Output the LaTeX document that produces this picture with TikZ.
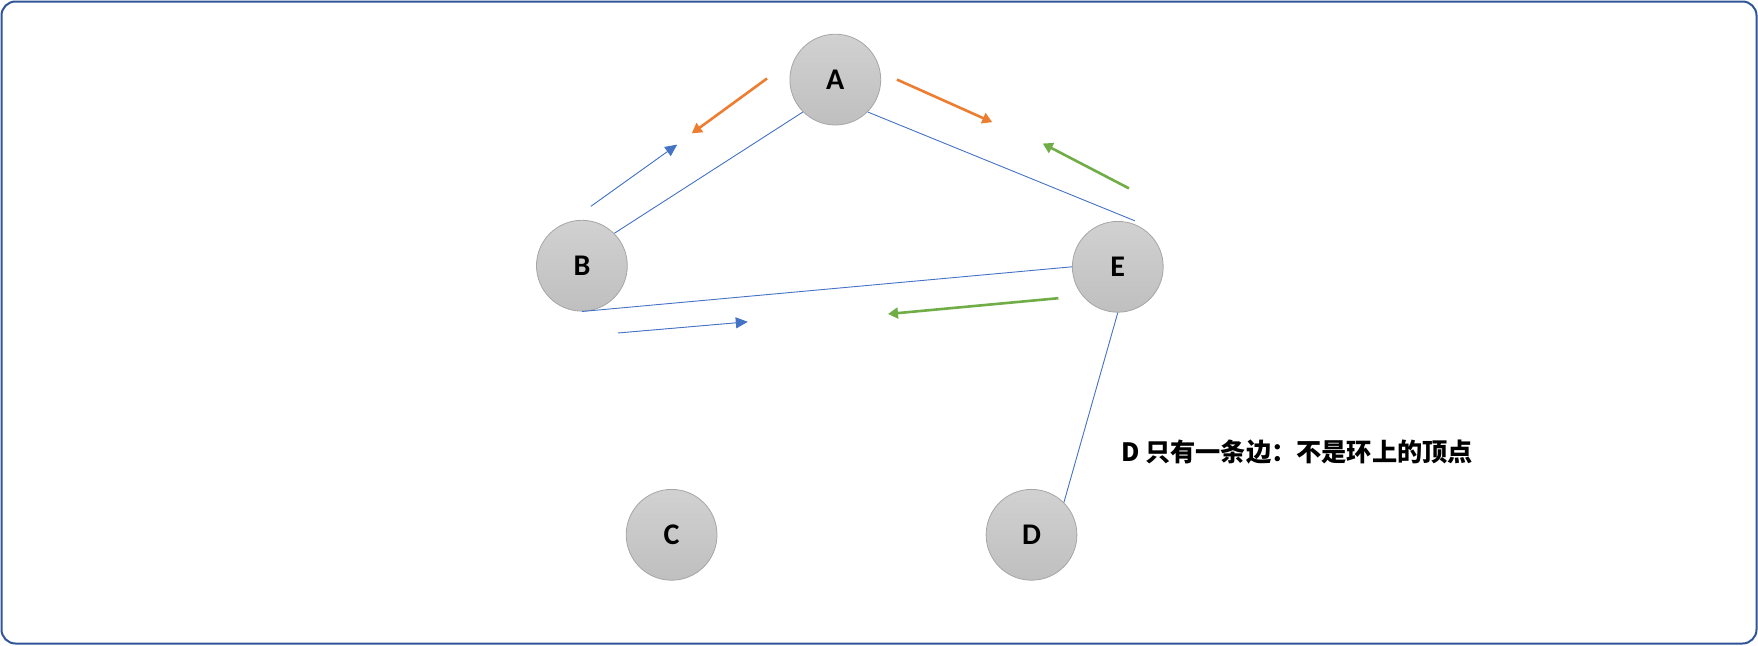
\documentclass[tikz,border=0pt]{standalone}
\usepackage{fontspec}
\setmainfont{Carlito}
\newfontfamily\cjk{Noto Sans CJK SC}
\usetikzlibrary{arrows.meta,calc}
\definecolor{frameblue}{HTML}{2F5597}
\definecolor{edgeblue}{HTML}{4472C4}
\definecolor{orangeA}{HTML}{ED7D31}
\definecolor{greenA}{HTML}{70AD47}
\definecolor{nodeborder}{HTML}{A6A6A6}
\begin{document}
\begin{tikzpicture}[x=1pt,y=-1pt,
  vertex/.style={circle, minimum size=90.8pt, inner sep=0pt, draw=nodeborder, line width=0.8pt,
    top color=black!18, bottom color=black!25, font=\fontsize{30}{31}\selectfont\bfseries},
  edge/.style={draw=edgeblue, line width=0.9pt},
  thinarrow/.style={draw=edgeblue, fill=edgeblue, line width=0.9pt, -{Triangle[length=12pt,width=11pt]}},
  orangearrow/.style={draw=orangeA, line width=2.6pt, -{Triangle[length=10pt,width=11pt]}},
  greenarrow/.style={draw=greenA, line width=2.6pt, -{Triangle[length=10pt,width=11pt]}},
  frame/.style={draw=frameblue, line width=2pt, rounded corners=14pt}]
\useasboundingbox (0,0) rectangle (1758,645);
\draw[frame] (1.5,1.5) rectangle (1756.5,643.5);

\node[vertex] (A) at (835.3,79.6) {A};
\node[vertex] (B) at (581.9,265.7) {B};
\node[vertex] (C) at (671.6,534.8) {C};
\node[vertex] (D) at (1031.5,534.8) {D};
\node[vertex] (E) at (1117.8,266.8) {E};

\coordinate (Eae) at ($(E)+(17,-46)$);
\draw[edge] (A.south west) -- (B.north east);
\draw[edge] (A.south east) -- (Eae);
\draw[edge] (B.south) -- (E.west);
\draw[edge] (E.south) -- (D.north east);

\coordinate (o1s) at (767,78.5);   \coordinate (o1e) at (691.8,133.4);
\coordinate (o2s) at (897,79.6);   \coordinate (o2e) at (992.3,122.2);
\coordinate (g1s) at (1129,188.4); \coordinate (g1e) at (1042.7,143.5);
\coordinate (g2s) at (1058.4,298.2); \coordinate (g2e) at (888,314);
\coordinate (b1s) at (590.9,206.3); \coordinate (b1e) at (677.2,144.6);
\coordinate (b2s) at (617.8,333);  \coordinate (b2e) at (747.8,321.8);

\draw[orangearrow] (o1s) -- (o1e);
\draw[orangearrow] (o2s) -- (o2e);
\draw[greenarrow] (g1s) -- (g1e);
\draw[greenarrow] (g2s) -- (g2e);
\draw[thinarrow] (b1s) -- (b1e);
\draw[thinarrow] (b2s) -- (b2e);

\node[anchor=west, inner sep=0pt, font=\cjk\fontsize{25.2}{27}\selectfont\bfseries] (label) at (1121,452) {D 只有一条边：不是环上的顶点};
\end{tikzpicture}
\end{document}
